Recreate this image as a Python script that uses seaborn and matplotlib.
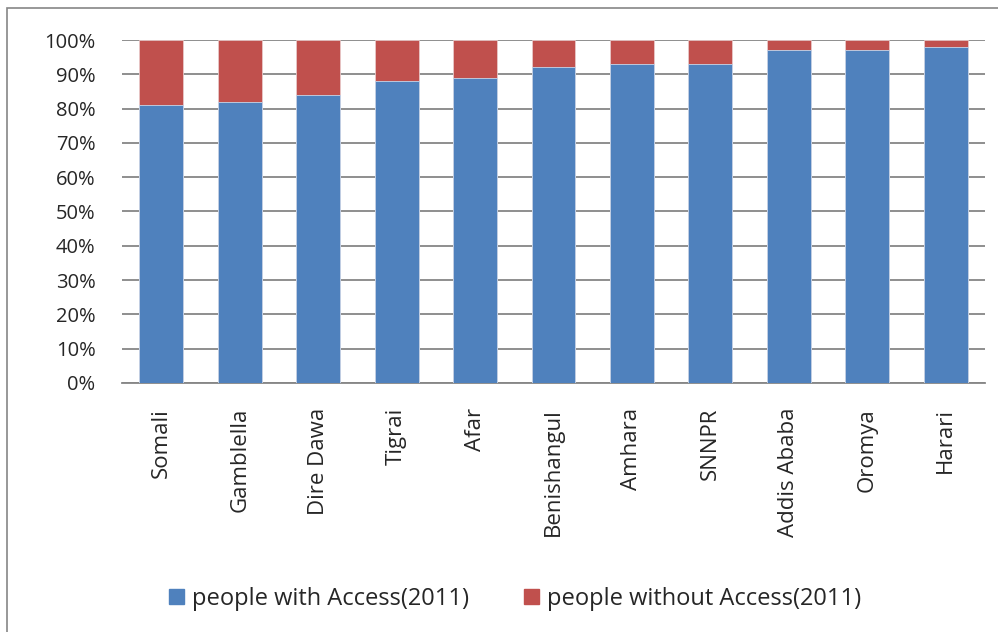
import matplotlib
matplotlib.use("Agg")
import matplotlib.pyplot as plt
import seaborn as sns
import pandas as pd
from matplotlib.patches import Rectangle

regions = ["Somali", "Gamblella", "Dire Dawa", "Tigrai", "Afar", "Benishangul",
           "Amhara", "SNNPR", "Addis Ababa", "Oromya", "Harari"]
with_access = [81, 82, 84, 88, 89, 92, 93, 93, 97, 97, 98]
without_access = [19, 18, 16, 12, 11, 8, 7, 7, 3, 3, 2]
yticks = [0, 10, 20, 30, 40, 50, 60, 70, 80, 90, 100]

df = pd.DataFrame({"region": regions, "with": with_access, "without": without_access})
df["total"] = df["with"] + df["without"]

sns.set_style("white")
plt.rcParams["font.family"] = ["Open Sans", "DejaVu Sans"]

fig = plt.figure(figsize=(9.98, 6.32), dpi=100)
ax = fig.add_axes([0.1222, 0.394, 0.8648, 0.5427])

blue = "#4F81BD"
red = "#C0504D"
sns.barplot(data=df, x="region", y="total", color=red, width=0.56, ax=ax,
            saturation=1, edgecolor="#e8c8c8", linewidth=0.6, zorder=2)
sns.barplot(data=df, x="region", y="with", color=blue, width=0.56, ax=ax,
            saturation=1, edgecolor="#c8d6ea", linewidth=0.6, zorder=3)

ax.set_ylim(0, 100)
ax.set_xlim(-0.5, len(regions) - 0.5)
ax.set_yticks(yticks)
ax.set_yticklabels([f"{v}%" for v in yticks], fontsize=14.5)
ax.yaxis.grid(True, color="#868686", linewidth=1.3, zorder=0)
ax.set_axisbelow(True)
for s in ["left", "right", "top"]:
    ax.spines[s].set_visible(False)
ax.spines["bottom"].set_color("#868686")
ax.spines["bottom"].set_linewidth(1.3)
ax.tick_params(axis="y", length=0, pad=19)
ax.tick_params(axis="x", length=0, pad=18)
ax.set_xticks(range(len(regions)))
ax.set_xticklabels(regions, rotation=90, fontsize=16, va="top", ha="center")
ax.set_xlabel("")
ax.set_ylabel("")

handles = [Rectangle((0, 0), 1, 1, color=blue), Rectangle((0, 0), 1, 1, color=red)]
fig.legend(handles, ["people with Access(2011)", "people without Access(2011)"],
           loc="center", bbox_to_anchor=(0.516, 0.052), ncol=2, frameon=False,
           fontsize=17, handlelength=0.62, handleheight=0.62, handletextpad=0.35,
           columnspacing=2.33)

fig.patches.append(Rectangle((7 / 998, -0.1), 1.2, 1 - 8 / 632 + 0.1,
                             transform=fig.transFigure, fill=False,
                             edgecolor="#868686", linewidth=1.2))

fig.savefig("out.png", dpi=100)
